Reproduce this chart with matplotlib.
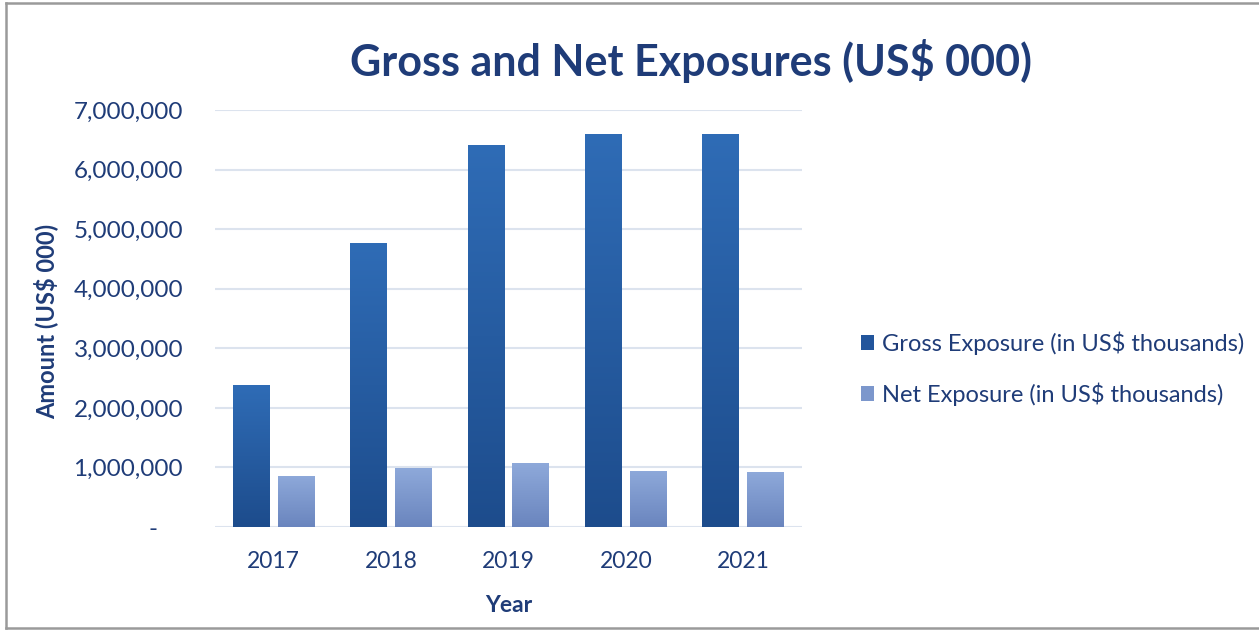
import numpy as np
import matplotlib.pyplot as plt
from matplotlib.patches import Patch
from matplotlib.lines import Line2D
from matplotlib.ticker import FuncFormatter

years = ["2017", "2018", "2019", "2020", "2021"]
gross = [2380000, 4760000, 6420000, 6600000, 6600000]
net = [860000, 985000, 1070000, 945000, 920000]

navy = "#1F3C78"
gross_top, gross_bot = "#2F6CB6", "#1D4C8C"
net_top, net_bot = "#8EA9DA", "#6A85BE"

plt.rcParams['font.family'] = ['Lato', 'DejaVu Sans']

fig = plt.figure(figsize=(12.59, 6.31), dpi=100)
ax = fig.add_axes([0.1708, 0.1648, 0.4662, 0.6609])

x = np.arange(len(years))
w = 0.315
off = 0.19


def gradient_bars(xs, vals, top, bot):
    bars = ax.bar(xs, vals, w, color="none", zorder=3)
    cmap = plt.matplotlib.colors.LinearSegmentedColormap.from_list("g", [bot, top])
    grad = np.linspace(0, 1, 256).reshape(-1, 1)
    for b in bars:
        x0, y0 = b.get_x(), b.get_y()
        im = ax.imshow(grad, cmap=cmap, origin="lower", aspect="auto",
                       extent=[x0, x0 + b.get_width(), y0, y0 + b.get_height()],
                       zorder=3)
        im.set_clip_path(b)
    return bars


gradient_bars(x - off, gross, gross_top, gross_bot)
gradient_bars(x + off, net, net_top, net_bot)

ax.set_xlim(-0.5, len(years) - 0.5)
ax.set_ylim(0, 7000000)
ax.set_yticks(np.arange(0, 7000001, 1000000))
ax.yaxis.set_major_formatter(FuncFormatter(lambda v, p: "-    " if v == 0 else f"{v:,.0f}"))
ax.set_xticks(x)
ax.set_xticklabels(years)
ax.tick_params(axis="both", length=0, colors=navy)
ax.tick_params(axis="y", pad=23, labelsize=17.5)
ax.tick_params(axis="x", pad=17, labelsize=16.5)
ax.grid(axis="y", color="#DCE3EE", linewidth=1.5, zorder=0)
for s in ax.spines.values():
    s.set_visible(False)

ax.set_xlabel("Year", color=navy, fontsize=16.5, fontweight="bold", labelpad=17)
fig.text(0.036, 0.491, "Amount (US$ 000)", rotation=90, color=navy,
         fontsize=17, fontweight="bold", ha="center", va="center")
fig.text(0.549, 0.903, "Gross and Net Exposures (US$ 000)", color=navy,
         fontsize=31, fontweight="bold", ha="center", va="center")

handles = [Patch(facecolor="#22559C", label="Gross Exposure (in US$ thousands)"),
           Patch(facecolor="#7C97CC", label="Net Exposure (in US$ thousands)")]
leg = fig.legend(handles=handles, loc="upper left", bbox_to_anchor=(0.667, 0.508),
                 frameon=False, fontsize=17, handlelength=0.55, handleheight=0.6,
                 handletextpad=0.35, labelspacing=1.15)
for t in leg.get_texts():
    t.set_color(navy)

# frame lines on left, top and bottom
for xs, ys in [([0.005, 0.005], [0.005, 0.995]),
               ([0.005, 1.0], [0.995, 0.995]),
               ([0.005, 1.0], [0.005, 0.005])]:
    fig.add_artist(Line2D(xs, ys, transform=fig.transFigure, color="#9A9A9A", linewidth=1.8))

fig.savefig("out.png", dpi=100, facecolor="white")
